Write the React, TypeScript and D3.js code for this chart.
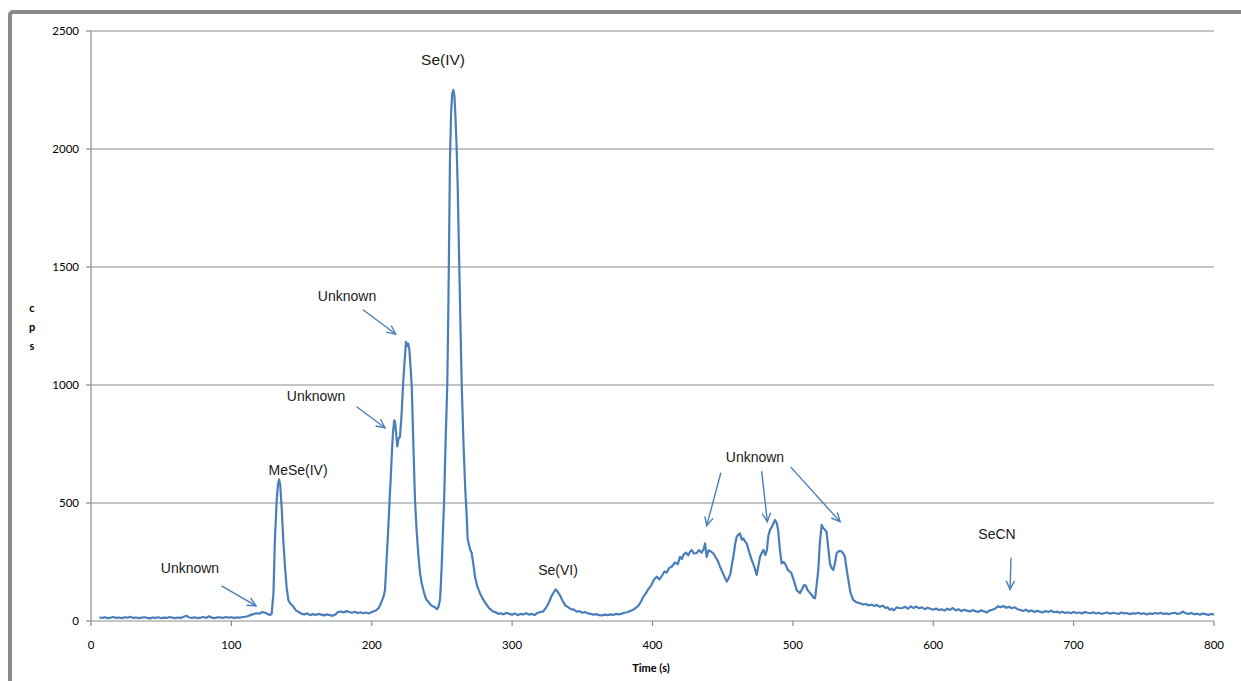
import React from "react";
import * as d3 from "d3";

// Elution time (s) and detector response (cps) for the selenium speciation run
const timeS = [
  6, 8, 10, 12, 14, 16, 18, 20, 22, 24, 26, 28, 30, 32, 34, 36, 38, 40, 42, 44, 46, 48, 50, 52, 54, 56, 58, 60,
  62, 64, 66, 68, 70, 72, 74, 76, 78, 80, 82, 84, 86, 88, 90, 92, 94, 96, 98, 100, 102, 104, 106, 108, 110, 112,
  114, 116, 118, 120, 122, 124, 126, 127.5, 128.7, 130, 131, 132.3, 133.2, 134, 134.8, 135.8, 137, 138.2, 139.4,
  140.6, 141.8, 143, 144.1, 146, 148, 150, 152, 154, 156, 158, 160, 162, 164, 166, 168, 170, 172, 174, 176, 178,
  180, 182, 184, 186, 188, 190, 192, 194, 196, 198, 200, 202, 203.5, 205, 207, 208.5, 209.4, 210.5, 211.6, 212.7,
  213.7, 214.4, 215.1, 216, 216.6, 217.3, 218.2, 219, 220.1, 221.2, 222.3, 223.4, 224.4, 225.2, 226, 226.8, 227.6,
  228.5, 229.6, 230.8, 232, 233.2, 234.4, 235.6, 236.8, 238, 239.1, 240.5, 242, 243.5, 245, 246.5, 247.5, 248.6,
  249.2, 249.8, 250.6, 251.5, 252.6, 253.8, 254.4, 255, 255.7, 256.5, 257.3, 258.1, 258.9, 259.6, 260.4, 261.2,
  262.2, 263.2, 264.1, 265.3, 266.6, 267.6, 268.3, 269.4, 270.3, 271.2, 272.4, 273.6, 275, 277.1, 279, 281.9, 283.5,
  285, 286.4, 288, 290, 292, 294, 296, 298, 300, 302, 304, 306, 308, 310, 312, 314, 316, 318, 320, 322, 324, 326, 328,
  330, 331, 332, 334, 336, 338, 340, 342, 344, 346, 348, 350, 352, 354, 356, 358, 360, 362, 364, 366, 368, 370, 372,
  374, 376, 378, 380, 382, 384, 386, 388, 390, 392, 393.5, 395, 397, 399, 401, 403, 405, 407, 408.5, 410, 412, 414,
  416, 418, 419.6, 421, 422, 424, 425.5, 426.7, 428, 429.5, 431.5, 433, 435, 436.5, 437.4, 438.6, 440, 441.5, 443.3,
  445, 446.5, 448.1, 450, 451.5, 452.9, 454, 455.5, 456.6, 457.6, 459, 460, 461, 462.3, 463.5, 464.7, 465.8, 467.1,
  469, 470.7, 472.5, 474.2, 475.3, 476.6, 478, 479, 480.4, 481.5, 482.5, 483.7, 485.5, 487.3, 488.5, 489.5, 490.8,
  492, 493.5, 495, 496.5, 497.8, 499, 500.8, 502.7, 503.8, 505, 506.5, 508, 509.2, 510.5, 512, 513.5, 514.5, 515.8,
  516.7, 518.1, 519.2, 520.5, 521.5, 523, 524, 525, 526.4, 527.5, 528.8, 530, 531.2, 532.5, 533.7, 534.8, 536, 537.1,
  538.3, 539.5, 541, 543, 545, 547.8, 550, 552, 554, 556, 557.8, 559.7, 562, 564, 566, 567.5, 569, 570.5, 572, 574,
  576, 578, 580, 582, 584, 586, 588, 590, 592, 594, 596, 598, 600, 602, 604, 606, 608, 610, 612, 614, 616, 618, 620,
  622, 624, 626, 628, 630, 632, 634, 636, 638, 640, 642, 644, 646, 648, 650, 652, 654, 656, 658, 660, 662, 664, 666,
  668, 670, 672, 674, 676, 678, 680, 682, 684, 686, 688, 690, 692, 694, 696, 698, 700, 702, 704, 706, 708, 710, 712,
  714, 716, 718, 720, 722, 724, 726, 728, 730, 732, 734, 736, 738, 740, 742, 744, 746, 748, 750, 752, 754, 756, 758,
  760, 762, 764, 766, 768, 770, 772, 774, 776, 778, 780, 782, 784, 786, 788, 790, 792, 794, 796, 798, 800,
];

const cps = [
  15, 13, 16, 12, 14, 17, 13, 15, 12, 16, 14, 18, 13, 15, 12, 14, 16, 13, 11, 15, 13, 16, 12, 14, 13, 17, 14, 12,
  15, 13, 18, 22, 15, 13, 16, 12, 14, 17, 13, 20, 14, 12, 16, 15, 13, 17, 14, 16, 13, 15, 14, 17, 18, 21,
  26, 30, 33, 31, 38, 35, 30, 25, 30, 120, 343, 513, 580, 600, 575, 484, 340, 230, 140,
  89, 75, 68, 61, 45, 38, 30, 28, 32, 25, 29, 26, 30, 27, 24, 28, 25, 22, 27, 38, 40,
  36, 42, 38, 35, 39, 34, 37, 33, 36, 32, 38, 42, 47, 55, 82, 105, 130, 250, 372, 510,
  627, 720, 795, 850, 845, 800, 740, 770, 781, 870, 1000, 1100, 1183, 1165, 1175, 1150, 1080,
  993, 760, 513, 380, 280, 203, 160, 130, 105, 89, 80, 68, 62, 58, 50, 60, 89,
  150, 230, 360, 500, 760, 1000, 1250, 1550, 1950, 2150, 2235, 2250, 2225, 2140, 2020, 1850,
  1550, 1250, 1000, 760, 560, 450, 350, 320, 300, 288, 240, 186, 150, 118, 95, 68, 55,
  48, 40, 38, 30, 33, 28, 35, 30, 27, 32, 25, 30, 28, 33, 27, 30, 25, 34, 38, 40, 55, 75, 105,
  125, 134, 128, 110, 85, 65, 58, 50, 48, 40, 42, 35, 38, 32, 30, 27, 29, 25, 24, 27, 25, 28, 26,
  30, 28, 31, 35, 37, 42, 47, 55, 65, 85, 103, 115, 135, 150, 175, 188, 176, 195, 210, 205, 225, 232,
  248, 241, 272, 262, 280, 290, 278, 294, 300, 286, 288, 300, 290, 305, 329, 272, 300, 295, 287,
  270, 255, 230, 205, 185, 167, 178, 200, 240, 272, 330, 357, 365, 371, 345, 350, 338, 329,
  290, 258, 230, 195, 230, 272, 290, 301, 280, 300, 360, 386, 405, 428, 415, 386, 300,
  244, 250, 237, 215, 210, 202, 170, 131, 125, 118, 135, 152, 150, 131, 120, 110, 100, 96,
  140, 216, 330, 407, 395, 385, 378, 320, 244, 225, 216, 245, 287, 295, 297, 294, 285, 272,
  220, 174, 120, 89, 80, 75, 70, 72, 66, 70, 64, 68, 60, 65, 55, 58, 47, 52, 45, 58,
  54, 55, 60, 52, 62, 55, 61, 54, 58, 50, 56, 52, 48, 53, 46, 50, 44, 52, 47, 55, 45, 50, 42,
  48, 44, 40, 46, 42, 38, 45, 41, 36, 44, 48, 52, 62, 58, 64, 56, 60, 54, 58, 50, 47, 42, 48,
  40, 45, 38, 43, 40, 36, 42, 38, 44, 37, 40, 35, 39, 34, 37, 33, 38, 34, 36, 32, 38, 35, 33,
  37, 32, 35, 30, 34, 36, 31, 35, 33, 30, 36, 32, 34, 29, 33, 31, 35, 30, 33, 28, 32, 30, 34,
  31, 35, 30, 32, 29, 33, 35, 30, 33, 40, 32, 30, 34, 28, 31, 27, 32, 29, 26, 30, 27,
];

const yTicks = [0, 500, 1000, 1500, 2000, 2500];
const xTicks = [0, 100, 200, 300, 400, 500, 600, 700, 800];

// Peak labels: text anchor in data units, optional arrows [fromT, fromCps, toT, toCps]
const peakLabels = [
  { text: "Unknown", t: 70.5, v: 224, size: 14, arrows: [[93.3, 148, 117.5, 64]] },
  { text: "MeSe(IV)", t: 147.5, v: 640, size: 14, arrows: [] },
  { text: "Unknown", t: 160.3, v: 953, size: 14, arrows: [[189.5, 907, 209.4, 819]] },
  { text: "Unknown", t: 182.4, v: 1377, size: 14, arrows: [[194, 1318, 217, 1216]] },
  { text: "Se(IV)", t: 250.8, v: 2381, size: 15.5, arrows: [] },
  { text: "Se(VI)", t: 332.7, v: 216, size: 14, arrows: [] },
  {
    text: "Unknown",
    t: 473,
    v: 695,
    size: 14,
    arrows: [
      [448.6, 626, 438.6, 404],
      [477.8, 633, 481.8, 421],
      [498.7, 651, 533.6, 421],
    ],
  },
  { text: "SeCN", t: 645.4, v: 369, size: 14, arrows: [[655.4, 266, 654.7, 134]] },
];

const W = 1241;
const H = 681;
const LINE = "#4a7ebb";
const TICK_FONT = "Lato, 'Liberation Sans', Arial, sans-serif";
const NOTE_FONT = "'Liberation Sans', Arial, sans-serif";

function Arrow({ x1, y1, x2, y2 }: { x1: number; y1: number; x2: number; y2: number }) {
  const ang = Math.atan2(y2 - y1, x2 - x1);
  const len = 9;
  const spread = 0.45;
  const a1 = ang + Math.PI - spread;
  const a2 = ang + Math.PI + spread;
  return (
    <g stroke={LINE} strokeWidth={1.4} fill="none" strokeLinecap="round">
      <line x1={x1} y1={y1} x2={x2} y2={y2} />
      <polyline
        points={`${x2 + len * Math.cos(a1)},${y2 + len * Math.sin(a1)} ${x2},${y2} ${x2 + len * Math.cos(a2)},${y2 + len * Math.sin(a2)}`}
      />
    </g>
  );
}

export default function App() {
  const x = d3.scaleLinear().domain([0, 800]).range([91, 1214]);
  const y = d3.scaleLinear().domain([0, 2500]).range([621, 31]);

  const pts: [number, number][] = timeS.map((t, i) => [t, cps[i]]);
  const line = d3
    .line<[number, number]>()
    .x((d) => x(d[0]))
    .y((d) => y(d[1]));

  return (
    <svg
      width={W}
      height={H}
      style={{ position: "absolute", left: 0, top: 0, background: "#fff" }}
      xmlns="http://www.w3.org/2000/svg"
    >
      {/* chart frame */}
      <rect x={10} y={12} width={1400} height={900} rx={3} fill="none" stroke="#8a8a8a" strokeWidth={4} />

      {/* horizontal gridlines */}
      {yTicks
        .filter((v) => v > 0)
        .map((v) => (
          <line key={`g${v}`} x1={x(0)} x2={x(800)} y1={y(v)} y2={y(v)} stroke="#b0b0b0" strokeWidth={1.5} />
        ))}

      {/* axes */}
      <line x1={x(0)} x2={x(0)} y1={y(2500)} y2={y(0)} stroke="#8c8c8c" strokeWidth={1.2} />
      <line x1={x(0)} x2={x(800)} y1={y(0)} y2={y(0)} stroke="#8c8c8c" strokeWidth={1.2} />
      {yTicks.map((v) => (
        <g key={`yt${v}`}>
          <line x1={x(0) - 5} x2={x(0)} y1={y(v)} y2={y(v)} stroke="#8c8c8c" strokeWidth={1.2} />
          <text x={79} y={y(v) + 4} textAnchor="end" fontFamily={TICK_FONT} fontSize={11.5} fill="#000">
            {v}
          </text>
        </g>
      ))}
      {xTicks.map((t) => (
        <g key={`xt${t}`}>
          <line x1={x(t)} x2={x(t)} y1={y(0)} y2={y(0) + 5} stroke="#8c8c8c" strokeWidth={1.2} />
          <text x={x(t)} y={649} textAnchor="middle" fontFamily={TICK_FONT} fontSize={11.5} fill="#000">
            {t}
          </text>
        </g>
      ))}

      {/* axis titles */}
      <text x={651} y={672} textAnchor="middle" fontFamily={TICK_FONT} fontSize={11} fontWeight="bold" fill="#000">
        Time (s)
      </text>
      {["c", "p", "s"].map((ch, i) => (
        <text
          key={ch}
          x={32}
          y={312 + i * 19}
          textAnchor="middle"
          fontFamily={TICK_FONT}
          fontSize={11}
          fontWeight="bold"
          fill="#000"
        >
          {ch}
        </text>
      ))}

      {/* chromatogram */}
      <path d={line(pts) || ""} fill="none" stroke={LINE} strokeWidth={2.2} strokeLinejoin="round" />

      {/* peak annotations */}
      {peakLabels.map((p, i) => (
        <g key={`pl${i}`}>
          <text
            x={x(p.t)}
            y={y(p.v) + p.size * 0.36}
            textAnchor="middle"
            fontFamily={NOTE_FONT}
            fontSize={p.size}
            fill="#1a1a1a"
          >
            {p.text}
          </text>
          {p.arrows.map((a, j) => (
            <Arrow key={j} x1={x(a[0])} y1={y(a[1])} x2={x(a[2])} y2={y(a[3])} />
          ))}
        </g>
      ))}
    </svg>
  );
}
